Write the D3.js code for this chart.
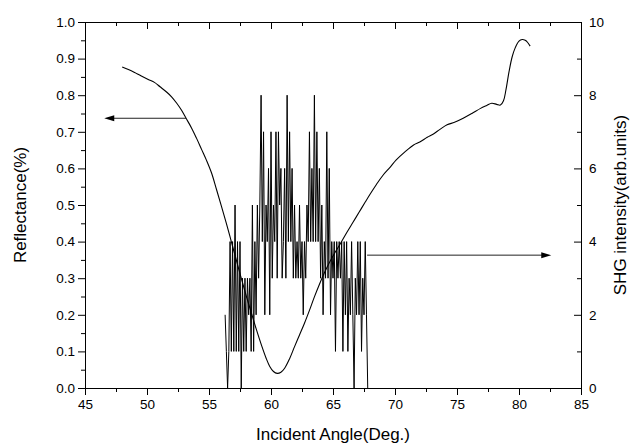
<!DOCTYPE html>
<html>
<head>
<meta charset="utf-8">
<script src="https://cdn.jsdelivr.net/npm/d3@7"></script>
<style>
  html, body { margin: 0; padding: 0; background: #fff; }
  svg { display: block; font-family: Arial, "Liberation Sans", sans-serif; }
</style>
</head>
<body>
<script>
// reflectance curve (left axis)
var reflAngle = [48.0, 48.5, 49.0, 49.4, 50.1, 50.6, 51.05, 51.6, 52.0, 52.4, 52.8, 53.15, 53.6, 54.0, 54.4, 54.8,
  55.2, 55.6, 56.0, 56.4, 56.8, 57.2, 57.6, 58.0, 58.4, 58.8, 59.25, 59.6, 59.9, 60.2, 60.5, 60.8, 61.1, 61.5,
  61.9, 62.3, 62.7, 63.1, 63.5, 63.9, 64.3, 64.7, 65.2, 65.6, 66.1, 66.6, 67.1, 67.6, 68.0, 68.5, 69.0, 69.6,
  70.1, 70.8, 71.5, 72.0, 72.6, 73.1, 73.6, 74.2, 74.8, 75.5, 76.2, 76.9, 77.4, 77.8, 78.2, 78.5, 78.75, 78.95,
  79.2, 79.45, 79.7, 80.0, 80.25, 80.5, 80.7, 80.9];
var reflValue = [0.877, 0.870, 0.862, 0.855, 0.843, 0.835, 0.823, 0.808, 0.795, 0.778, 0.758, 0.737, 0.710, 0.682, 0.652, 0.622,
  0.588, 0.543, 0.497, 0.450, 0.400, 0.350, 0.300, 0.252, 0.207, 0.162, 0.115, 0.082, 0.059, 0.045, 0.040, 0.043, 0.054, 0.080,
  0.113, 0.145, 0.177, 0.212, 0.249, 0.283, 0.314, 0.342, 0.372, 0.395, 0.424, 0.452, 0.480, 0.508, 0.530, 0.556, 0.580, 0.603,
  0.623, 0.645, 0.664, 0.672, 0.685, 0.694, 0.706, 0.719, 0.726, 0.737, 0.750, 0.764, 0.772, 0.778, 0.775, 0.773, 0.785, 0.815,
  0.865, 0.905, 0.930, 0.948, 0.952, 0.950, 0.944, 0.934];

// SHG intensity (right axis), one reading every 0.1 deg from 56.3 to 67.8
var shgStart = 56.3, shgStep = 0.1;
var shgValue = [2, 1, 0, 1, 4, 1, 4, 1, 5, 1, 4, 1, 4, 0, 3, 1, 3, 1, 3, 2, 3, 1, 5, 1, 4, 2, 5, 3, 5, 8,
  4, 7, 2, 5, 4, 6, 2, 7, 3, 5, 4, 7, 3, 7, 5, 6, 3, 4, 6, 3, 8, 4, 7, 4, 6, 3, 5, 3, 4, 3,
  5, 3, 4, 2, 4, 3, 5, 4, 7, 4, 6, 4, 8, 4, 7, 4, 6, 3, 5, 2, 4, 3, 7, 3, 6, 2, 4, 3, 4, 1,
  4, 3, 4, 3, 4, 1, 4, 2, 4, 1, 3, 2, 4, 2, 0, 3, 2, 4, 2, 4, 1, 3, 2, 4, 2, 0];

var xTicks = [45, 50, 55, 60, 65, 70, 75, 80, 85];
var leftTicks = [0, 0.1, 0.2, 0.3, 0.4, 0.5, 0.6, 0.7, 0.8, 0.9, 1.0];
var rightTicks = [0, 2, 4, 6, 8, 10];

var width = 630, height = 443;
var m = {left: 85, right: 49, top: 22, bottom: 55};

var svg = d3.select(document.body).append("svg")
    .attr("width", width)
    .attr("height", height);

var x = d3.scaleLinear().domain([45, 85]).range([m.left, width - m.right]);
var yL = d3.scaleLinear().domain([0, 1]).range([height - m.bottom, m.top]);
var yR = d3.scaleLinear().domain([0, 10]).range([height - m.bottom, m.top]);

var x0 = m.left, x1 = width - m.right, y0 = height - m.bottom, y1 = m.top;

var xMinor = d3.range(47.5, 85, 5);
var lMinor = d3.range(0.05, 1, 0.1);
var rMinor = d3.range(1, 10, 2);

function style(g) {
  g.selectAll("path, line").attr("stroke", "#000").attr("stroke-width", 1);
  g.selectAll("text").attr("fill", "#000").attr("font-size", 13.5);
}

// bottom
svg.append("g").attr("transform", "translate(0," + y0 + ")")
    .call(d3.axisBottom(x).tickValues(xTicks).tickSize(7).tickSizeOuter(0).tickPadding(4).tickFormat(d3.format("d")))
    .call(style);
svg.append("g").attr("transform", "translate(0," + y0 + ")")
    .call(d3.axisBottom(x).tickValues(xMinor).tickSize(4).tickSizeOuter(0).tickFormat(""))
    .call(style).call(g => g.select(".domain").remove());
// top
svg.append("g").attr("transform", "translate(0," + y1 + ")")
    .call(d3.axisTop(x).tickValues(xTicks).tickSize(-7).tickSizeOuter(0).tickFormat(""))
    .call(style);
svg.append("g").attr("transform", "translate(0," + y1 + ")")
    .call(d3.axisTop(x).tickValues(xMinor).tickSize(-4).tickSizeOuter(0).tickFormat(""))
    .call(style).call(g => g.select(".domain").remove());
// left
svg.append("g").attr("transform", "translate(" + x0 + ",0)")
    .call(d3.axisLeft(yL).tickValues(leftTicks).tickSize(7).tickSizeOuter(0).tickPadding(3).tickFormat(d3.format(".1f")))
    .call(style);
svg.append("g").attr("transform", "translate(" + x0 + ",0)")
    .call(d3.axisLeft(yL).tickValues(lMinor).tickSize(4).tickSizeOuter(0).tickFormat(""))
    .call(style).call(g => g.select(".domain").remove());
// right
svg.append("g").attr("transform", "translate(" + x1 + ",0)")
    .call(d3.axisRight(yR).tickValues(rightTicks).tickSize(-7).tickSizeOuter(0).tickPadding(8).tickFormat(d3.format("d")))
    .call(style);
svg.append("g").attr("transform", "translate(" + x1 + ",0)")
    .call(d3.axisRight(yR).tickValues(rMinor).tickSize(-4).tickSizeOuter(0).tickFormat(""))
    .call(style).call(g => g.select(".domain").remove());

// axis titles
svg.append("text")
    .attr("x", (x0 + x1) / 2).attr("y", 440)
    .attr("text-anchor", "middle").attr("font-size", 17)
    .text("Incident Angle(Deg.)");
svg.append("text")
    .attr("transform", "translate(26," + ((y0 + y1) / 2) + ") rotate(-90)")
    .attr("text-anchor", "middle").attr("font-size", 17)
    .text("Reflectance(%)");
svg.append("text")
    .attr("transform", "translate(626," + ((y0 + y1) / 2) + ") rotate(-90)")
    .attr("text-anchor", "middle").attr("font-size", 17)
    .text("SHG intensity(arb.units)");

// SHG trace
var shg = shgValue.map((v, i) => ({a: shgStart + i * shgStep, v: v}));
svg.append("path")
    .datum(shg)
    .attr("fill", "none")
    .attr("stroke", "#000")
    .attr("stroke-width", 1)
    .attr("d", d3.line().x(d => x(d.a)).y(d => yR(d.v)));

// reflectance curve
var refl = reflAngle.map((a, i) => ({a: a, v: reflValue[i]}));
svg.append("path")
    .datum(refl)
    .attr("fill", "none")
    .attr("stroke", "#000")
    .attr("stroke-width", 1.1)
    .attr("d", d3.line().curve(d3.curveCatmullRom).x(d => x(d.a)).y(d => yL(d.v)));

// arrows pointing at the axes
function arrow(xa, xb, y) {
  var dir = xb > xa ? 1 : -1;
  svg.append("line")
      .attr("x1", xa).attr("x2", xb - dir * 6).attr("y1", y).attr("y2", y)
      .attr("stroke", "#222").attr("stroke-width", 1);
  svg.append("path")
      .attr("d", "M" + xb + "," + y + "L" + (xb - dir * 10) + "," + (y - 3) + "L" + (xb - dir * 10) + "," + (y + 3) + "Z")
      .attr("fill", "#000");
}
arrow(x(53.15), x(46.55), yL(0.737));
arrow(x(67.75), x(82.6), yR(3.63));
</script>
</body>
</html>
